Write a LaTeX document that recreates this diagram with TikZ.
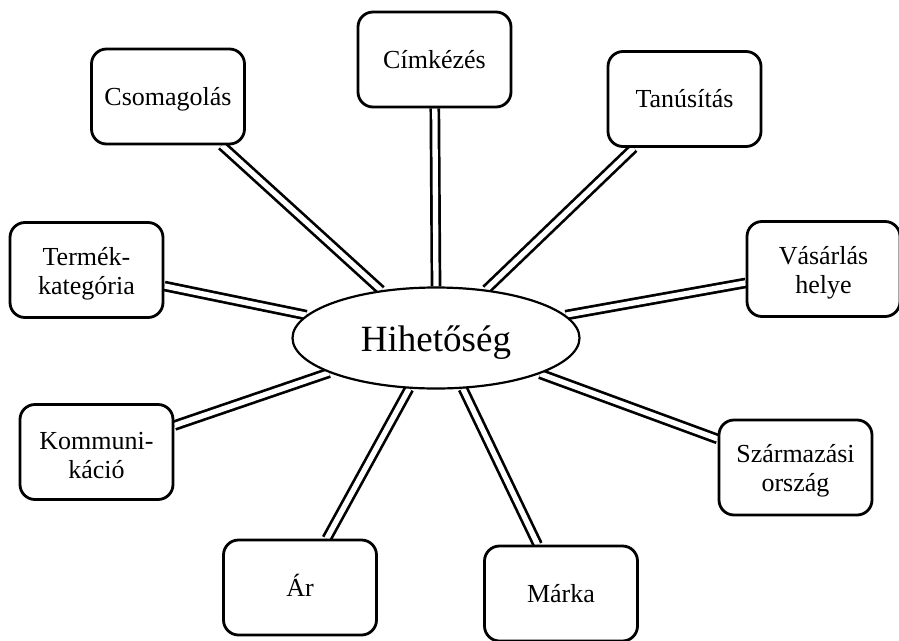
\documentclass[tikz,border=0pt]{standalone}
\usepackage{fontspec}
\setmainfont{Liberation Serif}
\usetikzlibrary{backgrounds,shapes.geometric}
\newcommand\mytopstrut{\rule{0pt}{25pt}}
\begin{document}
\begin{tikzpicture}[x=1pt,y=-1pt,
  boxbase/.style={draw, line width=2.8pt, rounded corners=15pt, fill=white,
    minimum width=153pt, minimum height=95pt, inner sep=0pt, align=center,
    font=\fontsize{26}{29}\selectfont},
  box/.style={boxbase, text height=17pt, text depth=0pt},
  box2/.style={boxbase},
  link/.style={double, double distance=5.3pt, line width=2.7pt}]
\useasboundingbox (0,0) rectangle (899,640);
\node[draw, ellipse, line width=2.2pt, fill=white, minimum width=287pt,
  minimum height=101pt, inner sep=0pt, font=\fontsize{37}{40}\selectfont,
  text height=26pt, text depth=0pt]
  (e) at (436,338) {Hihetőség};
\node[box] (csom) at (168,96.5) {Csomagolás};
\node[box] (cimk) at (434.5,59.5) {Címkézés};
\node[box] (tan) at (684.5,99) {Tanúsítás};
\node[box2] (vas) at (823.5,269) {\mytopstrut Vásárlás\\helye};
\node[box2] (term) at (86.5,270) {\mytopstrut Termék-\\kategória};
\node[box2] (komm) at (96.5,452) {\mytopstrut Kommuni-\\káció};
\node[box] (ar) at (300,587.5) {Ár};
\node[box] (mark) at (561,593.5) {Márka};
\node[box2] (szar) at (795.5,467.5) {\mytopstrut Származási\\ország};
\begin{pgfonlayer}{background}
\draw[link] (e.139.5) -- (csom);
\draw[link] (e.90) -- (cimk);
\draw[link] (e.44.4) -- (tan);
\draw[link] (e.10) -- (vas);
\draw[link] (e.170) -- (term);
\draw[link] (e.198) -- (komm);
\draw[link] (e.242.6) -- (ar);
\draw[link] (e.298.3) -- (mark);
\draw[link] (e.341.7) -- (szar);
\end{pgfonlayer}
\end{tikzpicture}
\end{document}
